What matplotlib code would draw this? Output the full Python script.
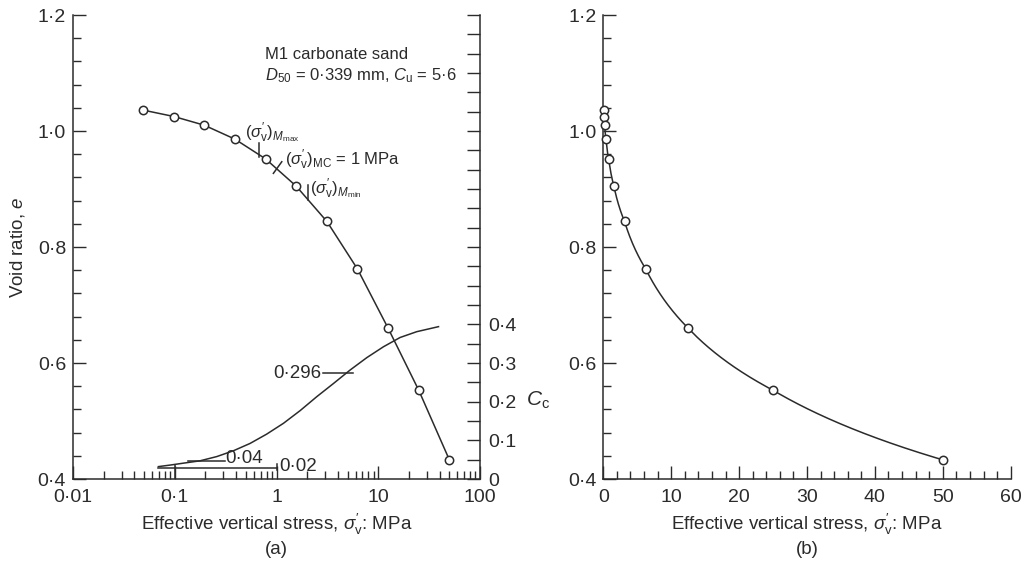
import numpy as np
import matplotlib
matplotlib.use("Agg")
import matplotlib.pyplot as plt
from matplotlib.ticker import FixedLocator, FixedFormatter, MultipleLocator, NullFormatter

plt.rcParams['font.family'] = ['Liberation Sans', 'DejaVu Sans']
plt.rcParams['mathtext.fontset'] = 'custom'
plt.rcParams['mathtext.rm'] = 'Liberation Sans'
plt.rcParams['mathtext.it'] = 'Liberation Sans:italic'
plt.rcParams['mathtext.bf'] = 'Liberation Sans:bold'
plt.rcParams['mathtext.fallback'] = 'stixsans'

# ---- data ----
stress = [0.049, 0.098, 0.195, 0.39, 0.78, 1.56, 3.13, 6.25, 12.5, 25, 50]
void_ratio = [1.036, 1.025, 1.010, 0.986, 0.952, 0.905, 0.844, 0.762, 0.660, 0.553, 0.433]

cc_stress = [0.069, 0.090, 0.122, 0.177, 0.259, 0.377, 0.55, 0.80, 1.17, 1.71,
             2.49, 3.63, 5.30, 7.73, 11.25, 16.4, 23.9, 39.1]
cc_values = [0.032, 0.036, 0.041, 0.047, 0.058, 0.073, 0.092, 0.116, 0.144, 0.177,
             0.213, 0.247, 0.282, 0.314, 0.342, 0.366, 0.381, 0.394]

log_ticks = [0.01, 0.1, 1, 10, 100]
log_labels = ['0·01', '0·1', '1', '10', '100']
e_ticks = [0.4, 0.6, 0.8, 1.0, 1.2]
e_labels = ['0·4', '0·6', '0·8', '1·0', '1·2']
cc_ticks = [0, 0.1, 0.2, 0.3, 0.4]
cc_labels = ['0', '0·1', '0·2', '0·3', '0·4']
lin_ticks = [0, 10, 20, 30, 40, 50, 60]
lin_labels = ['0', '10', '20', '30', '40', '50', '60']

INK = '#2b2b2b'
TICK_FS = 14
LABEL_FS = 13.5
NOTE_FS = 12
W, H = 1025, 562
fig = plt.figure(figsize=(W / 100, H / 100), dpi=100)

def px(x0, y0, x1, y1):
    return [x0 / W, 1 - y1 / H, (x1 - x0) / W, (y1 - y0) / H]

ax = fig.add_axes(px(73, 15, 480, 479))
axb = fig.add_axes(px(603.3, 15, 1010.7, 479))

for a in (ax, axb):
    a.set_ylim(0.4, 1.2)
    a.yaxis.set_major_locator(FixedLocator(e_ticks))
    a.yaxis.set_major_formatter(FixedFormatter(e_labels))
    a.yaxis.set_minor_locator(MultipleLocator(0.04))
    a.spines['top'].set_visible(False)
    a.spines['right'].set_visible(False)
    for s in ('left', 'bottom'):
        a.spines[s].set_linewidth(1.1)
        a.spines[s].set_color(INK)
    a.tick_params(which='both', direction='in', width=1.0, color=INK,
                  labelsize=TICK_FS, labelcolor=INK, top=False, right=False)
    a.tick_params(which='major', length=9.5)
    a.tick_params(which='minor', length=5.5)
    a.tick_params(axis='y', which='major', pad=5)
    a.tick_params(axis='x', which='major', pad=7)
    a.set_facecolor('none')

# ---- panel (a) ----
ax.set_xscale('log')
ax.set_xlim(0.01, 100)
ax.xaxis.set_major_locator(FixedLocator(log_ticks))
ax.xaxis.set_major_formatter(FixedFormatter(log_labels))
minor = [m * 10.0 ** k for k in range(-2, 2) for m in range(2, 10)]
ax.xaxis.set_minor_locator(FixedLocator(minor))
ax.xaxis.set_minor_formatter(NullFormatter())

ax.plot(stress, void_ratio, '-', color=INK, lw=1.1, marker='o', ms=6,
        mfc='white', mec=INK, mew=1.1, clip_on=False, zorder=4)

# stress markers on the e curve
ax.plot([0.68, 0.68], [0.956, 0.979], color=INK, lw=1.1)
ax.plot([0.932, 1.127], [0.927, 0.947], color=INK, lw=1.1)
ax.plot([2.06, 2.06], [0.881, 0.907], color=INK, lw=1.1)
SIG = r"\sigma^{\prime}_{\mathrm{v}}"
ax.text(0.491, 0.9966, r"$(%s)_{M_{\mathrm{max}}}$" % SIG, fontsize=NOTE_FS,
        color=INK, ha='left', va='center')
ax.text(1.215, 0.951, r"$(%s)_{\mathrm{MC}}$ = 1 MPa" % SIG, fontsize=NOTE_FS,
        color=INK, ha='left', va='center')
ax.text(2.14, 0.901, r"$(%s)_{M_{\mathrm{min}}}$" % SIG, fontsize=NOTE_FS,
        color=INK, ha='left', va='center')

ax.text(0.4717, 0.914, 'M1 carbonate sand', transform=ax.transAxes, fontsize=NOTE_FS,
        color=INK, ha='left', va='center')
ax.text(0.4717, 0.8685, r"$\mathit{D}_{\mathrm{50}}$ = 0·339 mm, $\mathit{C}_{\mathrm{u}}$ = 5·6",
        transform=ax.transAxes, fontsize=NOTE_FS, color=INK, ha='left', va='center')

# Cc on a twin axis
ax2 = ax.twinx()
ax2.set_ylim(0, 1.2)
ax2.yaxis.set_major_locator(FixedLocator(cc_ticks))
ax2.yaxis.set_major_formatter(FixedFormatter(cc_labels))
ax2.yaxis.set_minor_locator(MultipleLocator(0.05))
for s in ('top', 'left', 'bottom'):
    ax2.spines[s].set_visible(False)
ax2.spines['right'].set_linewidth(1.1)
ax2.spines['right'].set_color(INK)
ax2.tick_params(which='both', direction='in', length=9.5, width=1.0, color=INK,
                labelsize=TICK_FS, labelcolor=INK, pad=6)
for lbl in ax2.get_yticklabels():
    lbl.set_verticalalignment('center_baseline')

ax2.plot(cc_stress, cc_values, '-', color=INK, lw=1.1)
ax2.plot([2.89, 5.62], [0.273, 0.273], color=INK, lw=1.1)
ax2.text(2.78, 0.273, '0·296', fontsize=13.5, color=INK, ha='right', va='center')
ax2.plot([0.134, 0.312], [0.0465, 0.0465], color=INK, lw=1.1)
ax2.text(0.316, 0.054, '0·04', fontsize=13.5, color=INK, ha='left', va='center')
ax2.plot([0.069, 1.0], [0.029, 0.029], color=INK, lw=1.1)
ax2.plot([0.1, 0.1], [0.0, 0.036], color=INK, lw=1.1)
ax2.plot([1.0, 1.0], [0.022, 0.040], color=INK, lw=1.1)
ax2.text(1.07, 0.032, '0·02', fontsize=13.5, color=INK, ha='left', va='center')

fig.text(538 / W, 1 - 400 / H, r"$\mathit{C}_{\mathrm{c}}$", fontsize=15, color=INK,
         ha='center', va='center')

# ---- panel (b) ----
axb.set_xlim(0, 60)
axb.xaxis.set_major_locator(FixedLocator(lin_ticks))
axb.xaxis.set_major_formatter(FixedFormatter(lin_labels))
axb.xaxis.set_minor_locator(MultipleLocator(2))
s_arr = np.array(stress)
dense = np.linspace(s_arr[0], s_arr[-1], 600)
axb.plot(dense, np.interp(np.log(dense), np.log(s_arr), void_ratio), '-', color=INK,
         lw=1.1, clip_on=False)
axb.plot(stress, void_ratio, 'o', ms=6, mfc='white', mec=INK, mew=1.1,
         clip_on=False, zorder=4)

# ---- labels ----
fig.text(18 / W, 1 - 247 / H, r"Void ratio, $\mathit{e}$", rotation=90, fontsize=LABEL_FS,
         color=INK, ha='center', va='center')
xl = r"Effective vertical stress, $%s$: MPa" % SIG
fig.text(276.5 / W, 1 - 524 / H, xl, fontsize=LABEL_FS, color=INK, ha='center', va='center')
fig.text(276.5 / W, 1 - 550 / H, '(a)', fontsize=LABEL_FS, color=INK, ha='center', va='center')
fig.text(807 / W, 1 - 524 / H, xl, fontsize=LABEL_FS, color=INK, ha='center', va='center')
fig.text(807 / W, 1 - 550 / H, '(b)', fontsize=LABEL_FS, color=INK, ha='center', va='center')

fig.savefig('out.png', dpi=100)
